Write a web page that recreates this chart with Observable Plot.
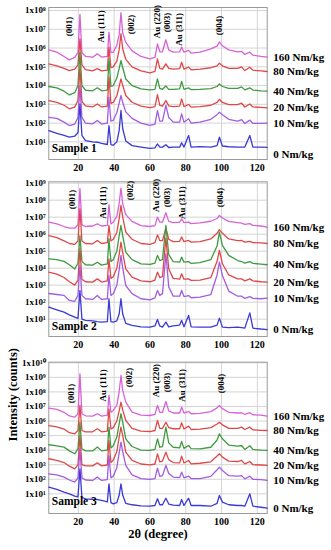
<!DOCTYPE html>
<html><head><meta charset="utf-8">
<script src="https://cdn.jsdelivr.net/npm/d3@7"></script>
<script src="https://cdn.jsdelivr.net/npm/@observablehq/plot@0.6"></script>
<style>
body{margin:0;background:#fff;}
#root{position:relative;width:331px;height:550px;overflow:hidden;}
#root > div{position:absolute;left:0;}
svg{overflow:visible;}
</style></head><body><div id="root"></div>
<script>
// 2θ positions (degree) at which intensities were read
const twoTheta = [3.5,8,12,15,18, 19.8,20.9,22,24,28, 30.6,33,36.2,37.1,38.2, 39.5,41.5,42.8,43.8,44.8, 46.5,50,55,60,62.8, 64.2,65.5,67,68.9,70.5, 73,76.6,77.7,79,81.6, 83,88,94,97.5,98.8, 100.5,104,109,111.2,113, 115.8,117.5,122,125.5];
const loads = ["160 Nm/kg","80 Nm/kg","40 Nm/kg","20 Nm/kg","10 Nm/kg","0 Nm/kg"];
const colors = ["#d862d8","#e04848","#3f9b3f","#e04848","#a35ce0","#3a3ad6"];
const peakNames = ["(001)","Au (111)","(002)","Au (220)","(003)","Au (311)","(004)"];

// log10(intensity, counts) — Sample 1
const s1_160 = [5.90,5.78,5.55,5.37,5.50, 5.75,7.79,5.75,5.56,5.51, 5.69,5.52,5.55,6.85,5.75, 5.78,6.15,6.70,7.88,6.80, 6.30,5.85,5.55,5.42,5.50, 6.22,5.80,5.80,6.44,5.90, 5.78,5.80,6.05,5.78,5.87, 5.73,5.78,5.96,6.10,6.33, 6.12,5.90,5.80,5.82,5.66, 5.78,5.62,5.55,5.51];
const s1_80 = [5.16,5.05,4.92,4.80,4.88, 5.10,6.49,5.10,4.85,4.78, 4.90,4.78,4.82,6.05,4.95, 5.00,5.30,5.90,6.76,5.95, 5.40,5.00,4.78,4.68,4.75, 5.42,4.92,4.88,5.16,4.92, 4.88,4.90,5.25,4.88,4.98, 4.84,4.88,4.95,5.05,5.19, 5.05,4.92,4.92,5.00,4.80, 4.98,4.82,4.78,4.75];
const s1_40 = [3.95,3.88,3.70,3.50,3.62, 4.00,5.78,4.00,3.75,3.72, 3.88,3.72,3.76,5.42,3.95, 4.00,4.40,4.90,5.33,4.95, 4.35,4.00,3.82,3.77,3.80, 4.36,3.85,3.80,3.98,3.80, 3.80,3.82,4.22,3.80,3.88, 3.78,3.80,3.84,3.95,4.09, 3.95,3.85,3.85,3.93,3.77, 3.88,3.76,3.72,3.70];
const s1_20 = [3.20,3.10,2.95,2.76,2.85, 3.20,4.98,3.15,2.92,2.86, 3.02,2.86,2.90,4.45,3.05, 3.10,3.45,3.95,4.36,4.00, 3.47,3.11,2.90,2.82,2.88, 3.52,2.95,2.90,3.20,2.92, 2.88,2.90,3.29,2.88,2.99, 2.85,2.88,2.95,3.10,3.27, 3.10,2.98,2.98,3.06,2.86, 3.02,2.86,2.84,2.81];
const s1_10 = [2.31,2.25,2.05,1.87,1.95, 2.30,4.00,2.30,2.00,1.96, 2.14,1.95,2.00,3.38,2.10, 2.15,2.55,3.05,3.47,3.10, 2.60,2.25,2.00,1.88,1.95, 2.67,2.10,2.10,2.94,2.30, 2.05,2.05,2.49,2.05,2.23, 2.00,2.05,2.20,2.45,2.58, 2.45,2.20,2.10,2.18,1.98, 2.16,1.98,1.98,2.00];
const s1_0 = [1.60,1.45,1.35,1.25,1.30, 1.50,3.02,1.35,1.07,1.00, 0.98,0.92,0.86,1.87,0.85, 0.82,1.00,1.60,2.67,1.70, 1.05,0.80,0.72,0.65,0.68, 0.89,0.72,0.72,0.85,0.70, 0.72,0.72,0.95,0.72,1.34, 0.72,0.75,0.72,0.80,1.25, 0.78,0.74,0.72,0.72,0.72, 1.34,0.72,0.72,0.71];

// Sample 2
const s2_160 = [6.71,6.60,6.45,6.35,6.35, 6.55,8.67,6.55,6.45,6.48, 6.61,6.48,6.52,7.73,6.60, 6.70,7.05,7.80,8.71,7.80, 7.15,6.75,6.50,6.45,6.50, 7.00,6.72,6.70,7.26,6.75, 6.68,6.70,6.90,6.68,6.71, 6.62,6.66,6.76,6.92,7.10, 6.95,6.75,6.68,6.65,6.58, 6.62,6.52,6.48,6.41];
const s2_80 = [5.92,5.80,5.60,5.45,5.40, 5.60,7.49,5.60,5.45,5.43, 5.63,5.45,5.50,6.51,5.60, 5.70,6.10,6.90,7.69,7.00, 6.12,5.70,5.45,5.40,5.50, 5.96,5.62,5.62,6.35,5.70, 5.56,5.58,5.83,5.56,5.63, 5.53,5.56,5.72,6.05,6.27, 6.05,5.72,5.62,5.63,5.53, 5.58,5.50,5.49,5.45];
const s2_40 = [4.55,4.50,4.40,4.20,3.95, 4.30,5.92,4.40,4.20,4.18, 4.35,4.18,4.25,5.73,4.40, 4.50,5.00,5.90,6.51,5.90, 4.94,4.50,4.25,4.22,4.30, 4.75,4.45,4.50,6.51,4.80, 4.39,4.35,4.65,4.35,4.39, 4.28,4.32,4.50,5.30,6.12, 5.34,4.75,4.45,4.39,4.30, 4.39,4.28,4.24,4.20];
const s2_20 = [3.77,3.65,3.45,3.20,3.00, 3.30,5.14,3.35,3.20,3.18, 3.37,3.18,3.25,4.55,3.40, 3.50,4.00,4.80,5.53,4.90, 3.96,3.47,3.25,3.20,3.30, 3.77,3.45,3.50,5.77,3.95, 3.40,3.35,3.67,3.35,3.37, 3.28,3.30,3.45,4.40,5.04, 4.26,3.60,3.37,3.37,3.25, 3.37,3.25,3.20,3.18];
const s2_10 = [2.51,2.45,2.40,2.10,2.05, 2.40,4.16,2.40,2.20,2.16, 2.39,2.16,2.20,3.57,2.40, 2.50,3.00,3.90,4.75,4.00, 2.98,2.50,2.20,2.14,2.25, 2.69,2.40,2.50,4.84,2.90, 2.35,2.35,2.69,2.33,2.39, 2.26,2.30,2.45,3.60,4.35, 3.57,2.65,2.35,2.36,2.22, 2.33,2.22,2.20,2.24];
const s2_0 = [1.71,1.55,1.41,1.25,1.12, 1.05,2.69,1.00,0.93,0.90, 0.85,0.83,0.85,2.20,0.85, 0.83,0.90,1.30,2.20,1.30, 0.75,0.63,0.55,0.53,0.60, 0.98,0.60,0.53,0.83,0.55, 0.60,0.65,0.93,0.55,1.22, 0.55,0.53,0.53,0.65,1.06, 0.53,0.50,0.53,0.50,0.47, 1.37,0.47,0.42,0.39];

// Sample 3
const s3_160 = [6.89,6.80,6.60,6.35,6.27, 6.50,9.24,6.50,6.36,6.34, 6.50,6.34,6.40,7.76,6.60, 6.73,7.10,8.00,9.13,8.10, 7.30,6.61,6.40,6.38,6.45, 7.07,6.60,6.60,7.34,6.70, 6.55,6.55,6.95,6.55,6.66, 6.50,6.52,6.65,6.90,7.07, 6.85,6.60,6.55,6.57,6.45, 6.57,6.43,6.40,6.34];
const s3_80 = [5.69,5.60,5.45,5.20,5.12, 5.35,7.07,5.35,5.26,5.26, 5.47,5.26,5.30,6.84,5.45, 5.55,6.00,6.70,7.30,6.75, 6.04,5.50,5.30,5.28,5.35, 6.04,5.50,5.50,5.92,5.55, 5.47,5.47,5.88,5.45,5.65, 5.42,5.44,5.55,5.80,5.92, 5.74,5.50,5.50,5.58,5.42, 5.58,5.40,5.36,5.35];
const s3_40 = [4.37,4.30,4.21,3.95,3.75, 4.10,5.92,4.10,3.95,3.95, 4.21,3.95,4.00,5.58,4.15, 4.30,4.90,5.80,6.50,5.90, 4.78,4.25,4.00,3.98,4.05, 4.78,4.20,4.25,5.58,4.50, 4.20,4.15,4.60,4.12,4.32, 4.10,4.09,4.20,4.70,5.12, 4.78,4.35,4.28,4.32,4.05, 4.30,4.05,4.00,3.98];
const s3_20 = [3.41,3.30,3.15,2.90,2.72, 3.00,5.01,3.00,2.92,2.92, 3.13,2.92,2.98,4.66,3.15, 3.30,3.90,4.90,5.58,5.00, 3.86,3.30,3.05,2.99,3.05, 3.75,3.20,3.25,3.86,3.35, 3.15,3.13,3.59,3.12,3.29, 3.06,3.10,3.20,3.60,3.75, 3.52,3.25,3.22,3.29,3.06, 3.22,3.00,2.98,2.95];
const s3_10 = [2.37,2.30,2.15,1.95,1.80, 2.10,4.09,2.10,1.95,1.92, 2.15,1.92,1.98,3.63,2.10, 2.20,2.80,3.80,4.55,3.90, 2.95,2.30,2.05,1.99,2.05, 2.76,2.20,2.25,2.95,2.40, 2.15,2.12,2.49,2.10,2.21, 2.05,2.05,2.20,2.65,2.83, 2.60,2.25,2.21,2.25,2.03, 2.21,2.00,1.97,1.92];
const s3_0 = [1.46,1.30,1.12,1.00,0.85, 0.80,2.72,0.75,0.66,0.62, 0.61,0.55,0.45,1.69,0.40, 0.31,0.40,0.90,1.69,0.90, 0.35,0.25,0.18,0.15,0.20, 0.66,0.25,0.25,0.70,0.30, 0.22,0.20,0.61,0.20,0.70, 0.20,0.20,0.15,0.35,0.89, 0.43,0.25,0.20,0.20,0.15, 1.00,0.15,0.08,0.02];

// peak annotation anchors (2θ, log10 intensity)
const s1PeakX = [15.1,32.5,49.6,63.8,69.4,76.3,98.7];
const s1PeakY = [7.15,7.15,7.25,7.41,7.36,6.99,7.20];
const s2PeakX = [16.6,34.0,48.9,63.3,69.4,77.7,99.3];
const s2PeakY = [8.04,7.86,8.57,8.28,8.16,7.86,8.16];
const s3PeakX = [16.2,34.0,48.3,63.3,69.4,77.7,99.6];
const s3PeakY = [7.89,8.44,8.99,8.78,8.65,8.44,8.58];

const FONT = '"Liberation Serif","Times New Roman",serif';
const SUP = {"0":"⁰","1":"¹","2":"²","3":"³","4":"⁴","5":"⁵","6":"⁶","7":"⁷","8":"⁸","9":"⁹","-":"⁻"};
const fmt = d => "1x10" + String(Math.round(Math.log10(d))).split("").map(c => SUP[c]).join("");

function panel(cfg) {
  const rows = [];
  cfg.series.forEach((vals, i) => vals.forEach((v, j) => rows.push({x: twoTheta[j], y: 10 ** v, load: loads[i]})));
  const ends = cfg.series.map((vals, i) => ({x: twoTheta[twoTheta.length - 1], y: 10 ** vals[vals.length - 1], load: loads[i]}));
  const peaks = peakNames.map((n, i) => ({name: n, x: cfg.peakX[i], y: 10 ** cfg.peakY[i]}));
  const yTicks = d3.range(1, cfg.maxExp + 1).map(e => 10 ** e);
  const marks = [
    Plot.gridX({ticks: [20, 40, 60, 80, 100, 120], stroke: "#d4d4d4", strokeOpacity: 1}),
    Plot.gridY({ticks: yTicks, stroke: "#d4d4d4", strokeOpacity: 1}),
    Plot.frame({stroke: "#9a9a9a"}),
    Plot.axisX({ticks: [20, 40, 60, 80, 100, 120], tickSize: 0, tickPadding: 4, fontSize: 10, fontWeight: "bold", label: null}),
    Plot.axisY({ticks: yTicks, tickFormat: fmt, tickSize: 0, tickPadding: 3, fontSize: 9, fontWeight: "bold", label: null}),
    Plot.line(rows, {x: "x", y: "y", z: "load", stroke: "load", strokeWidth: 1.3}),
    Plot.text(peaks, {x: "x", y: "y", text: "name", rotate: -90, fontSize: 9, fontWeight: "bold", fill: "black"}),
    Plot.text([cfg.sample], {frameAnchor: "bottom-left", dx: 3, dy: -cfg.sampleUp, textAnchor: "start", fontSize: 11.5, fontWeight: "bold", fill: "black"}),
    ...ends.map((e, i) => Plot.text([e], {x: "x", y: "y", text: "load", textAnchor: "start", dx: 6, dy: cfg.labelDy[i], fontSize: 11, fontWeight: "bold", fill: "black"})),
    ...(cfg.extra || [])
  ];
  const svg = Plot.plot({
    width: 331, height: cfg.height,
    marginTop: cfg.marginTop, marginBottom: cfg.marginBottom, marginLeft: 48.3, marginRight: 64.3,
    style: {fontFamily: FONT, color: "black", background: "transparent", overflow: "visible"},
    x: {domain: [3.5, 125.5]},
    y: {type: "log", domain: [10 ** cfg.logDomain[0], 10 ** cfg.logDomain[1]]},
    color: {domain: loads, range: colors},
    marks
  });
  const div = document.createElement("div");
  div.style.top = cfg.top + "px";
  div.appendChild(svg);
  document.getElementById("root").appendChild(div);
}

panel({series: [s1_160, s1_80, s1_40, s1_20, s1_10, s1_0], sample: "Sample 1", peakX: s1PeakX, peakY: s1PeakY,
  top: 0, height: 175, marginTop: 7, marginBottom: 16, logDomain: [0.06, 8.16], maxExp: 8,
  labelDy: [0, 0, 0, 0, 0, 7], sampleUp: 8});
panel({series: [s2_160, s2_80, s2_40, s2_20, s2_10, s2_0], sample: "Sample 2", peakX: s2PeakX, peakY: s2PeakY,
  top: 175, height: 177, marginTop: 6.3, marginBottom: 16, logDomain: [-0.02, 9.08], maxExp: 9,
  labelDy: [0, 0, 0, 0, 0, 0], sampleUp: 7});
panel({series: [s3_160, s3_80, s3_40, s3_20, s3_10, s3_0], sample: "Sample 3", peakX: s3PeakX, peakY: s3PeakY,
  top: 355, height: 195, marginTop: 6.7, marginBottom: 37, logDomain: [-0.35, 10.04], maxExp: 10,
  labelDy: [0, 0, 0, 0, 0, 0], sampleUp: 9,
  extra: [
    Plot.text(["Intensity (counts)"], {frameAnchor: "left", rotate: -90, dx: -35.6, dy: 3.6, fontSize: 12.5, fontWeight: "bold", fill: "black"}),
    Plot.text(["2θ (degree)"], {frameAnchor: "bottom", dy: 24.7, fontSize: 12.5, fontWeight: "bold", fill: "black"})
  ]});
</script></body></html>
